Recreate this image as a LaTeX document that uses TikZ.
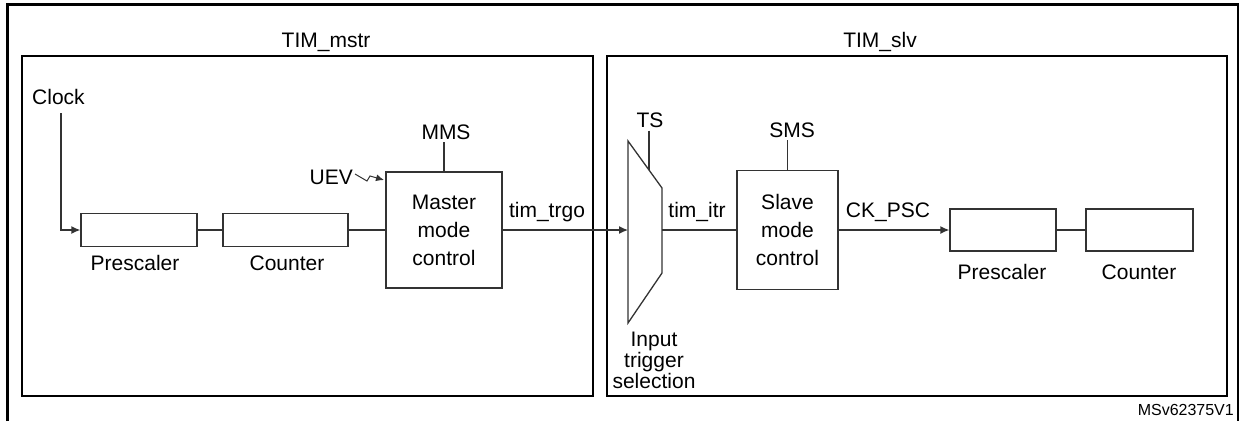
\documentclass[tikz,border=0pt]{standalone}
\usepackage{fontspec}
\setmainfont{Liberation Sans}
\usetikzlibrary{arrows.meta}
\tikzset{
  wire/.style={draw=black!80, line width=1.3pt},
  blk/.style={draw=black!80, line width=1.3pt, rectangle, inner sep=0pt},
  grp/.style={draw=black, line width=2pt, rectangle, inner sep=0pt},
  lbl/.style={inner sep=2pt, text=black},
  arr/.style={-{Latex[length=9pt,width=8pt]}},
  arrsmall/.style={-{Latex[length=8pt,width=7pt]}},
  multi/.style={align=center, inner sep=0pt, font=\fontsize{21}{28}\selectfont},
}
\begin{document}
\begin{tikzpicture}[x=1pt,y=-1pt, font=\fontsize{21}{24}\selectfont]
\useasboundingbox (0,0) rectangle (1241,421);
% outer frame
\draw[line width=2.6pt] (7.5,421) -- (7.5,4.5) -- (1238,4.5) -- (1238,421);
% group boxes
\node[grp, minimum width=571pt, minimum height=340pt] (mstr) at (307.5,226) {};
\node[grp, minimum width=620pt, minimum height=340pt] (slv) at (917,226) {};
\node[lbl] (tmstr) at (326,42) {TIM\_mstr};
\node[lbl] (tslv) at (880,42) {TIM\_slv};
% master side
\node[lbl, anchor=west] (clock) at (30,97) {Clock};
\coordinate (clkw) at (61,113);
\node[blk, minimum width=116pt, minimum height=33pt] (pL) at (139,230) {};
\node[blk, minimum width=125pt, minimum height=33pt] (cL) at (285.5,230) {};
\node[lbl] (pLt) at (135,263) {Prescaler};
\node[lbl] (cLt) at (287,263) {Counter};
\node[blk, multi, minimum width=116pt, minimum height=116pt] (mmc) at (444,230) {Master\\mode\\control};
\node[lbl] (mms) at (446,132) {MMS};
\node[lbl, anchor=east] (uev) at (355,177) {UEV};
\coordinate (uevtip) at (384,180);
\node[lbl] (trgo) at (547,212) {tim\_trgo};
\draw[wire, arr] (clkw) |- (pL.west);
\draw[wire] (pL.east) -- (cL.west);
\draw[wire] (cL.east) -- (mmc.west);
\draw[wire] (mmc.north) -- (mmc.north |- mms.south);
\draw[wire, line width=1pt, arrsmall] ([yshift=3pt]uev.east) -- (367,181) -- (370,176) -- (uevtip);
% multiplexer
\coordinate (mtl) at (628,141);
\coordinate (mtr) at (662,188);
\coordinate (mbr) at (662,273);
\coordinate (mbl) at (628,323);
\coordinate (muxin) at (628,230);
\coordinate (muxout) at (662,230);
\coordinate (muxts) at (649,170);
\draw[wire] (mtl) -- (mtr) -- (mbr) -- (mbl) -- cycle;
\node[lbl, inner sep=3pt] (ts) at (650,120) {TS};
\draw[wire] (muxts |- ts.south) -- (muxts);
\draw[wire, arr] (mmc.east) -- (muxin);
\node[multi, font=\fontsize{21}{21}\selectfont] (its) at (654,360) {Input\\trigger\\selection};
% slave side
\node[lbl] (itr) at (697,212) {tim\_itr};
\node[blk, multi, minimum width=101pt, minimum height=119pt] (smc) at (787.5,230) {Slave\\mode\\control};
\node[lbl] (sms) at (792,130) {SMS};
\draw[wire] (muxout) -- (smc.west);
\draw[wire] (smc.north) -- (smc.north |- sms.south);
\node[lbl] (ckpsc) at (888,212) {CK\_PSC};
\node[blk, minimum width=106pt, minimum height=42pt] (pR) at (1003,230) {};
\node[blk, minimum width=107pt, minimum height=42pt] (cR) at (1139.5,230) {};
\node[lbl] (pRt) at (1002,272) {Prescaler};
\node[lbl] (cRt) at (1139,272) {Counter};
\draw[wire, arr] (smc.east) -- (pR.west);
\draw[wire] (pR.east) -- (cR.west);
% figure id
\node[lbl, anchor=east, font=\fontsize{16}{19}\selectfont] (msv) at (1236,410) {MSv62375V1};
\end{tikzpicture}
\end{document}
